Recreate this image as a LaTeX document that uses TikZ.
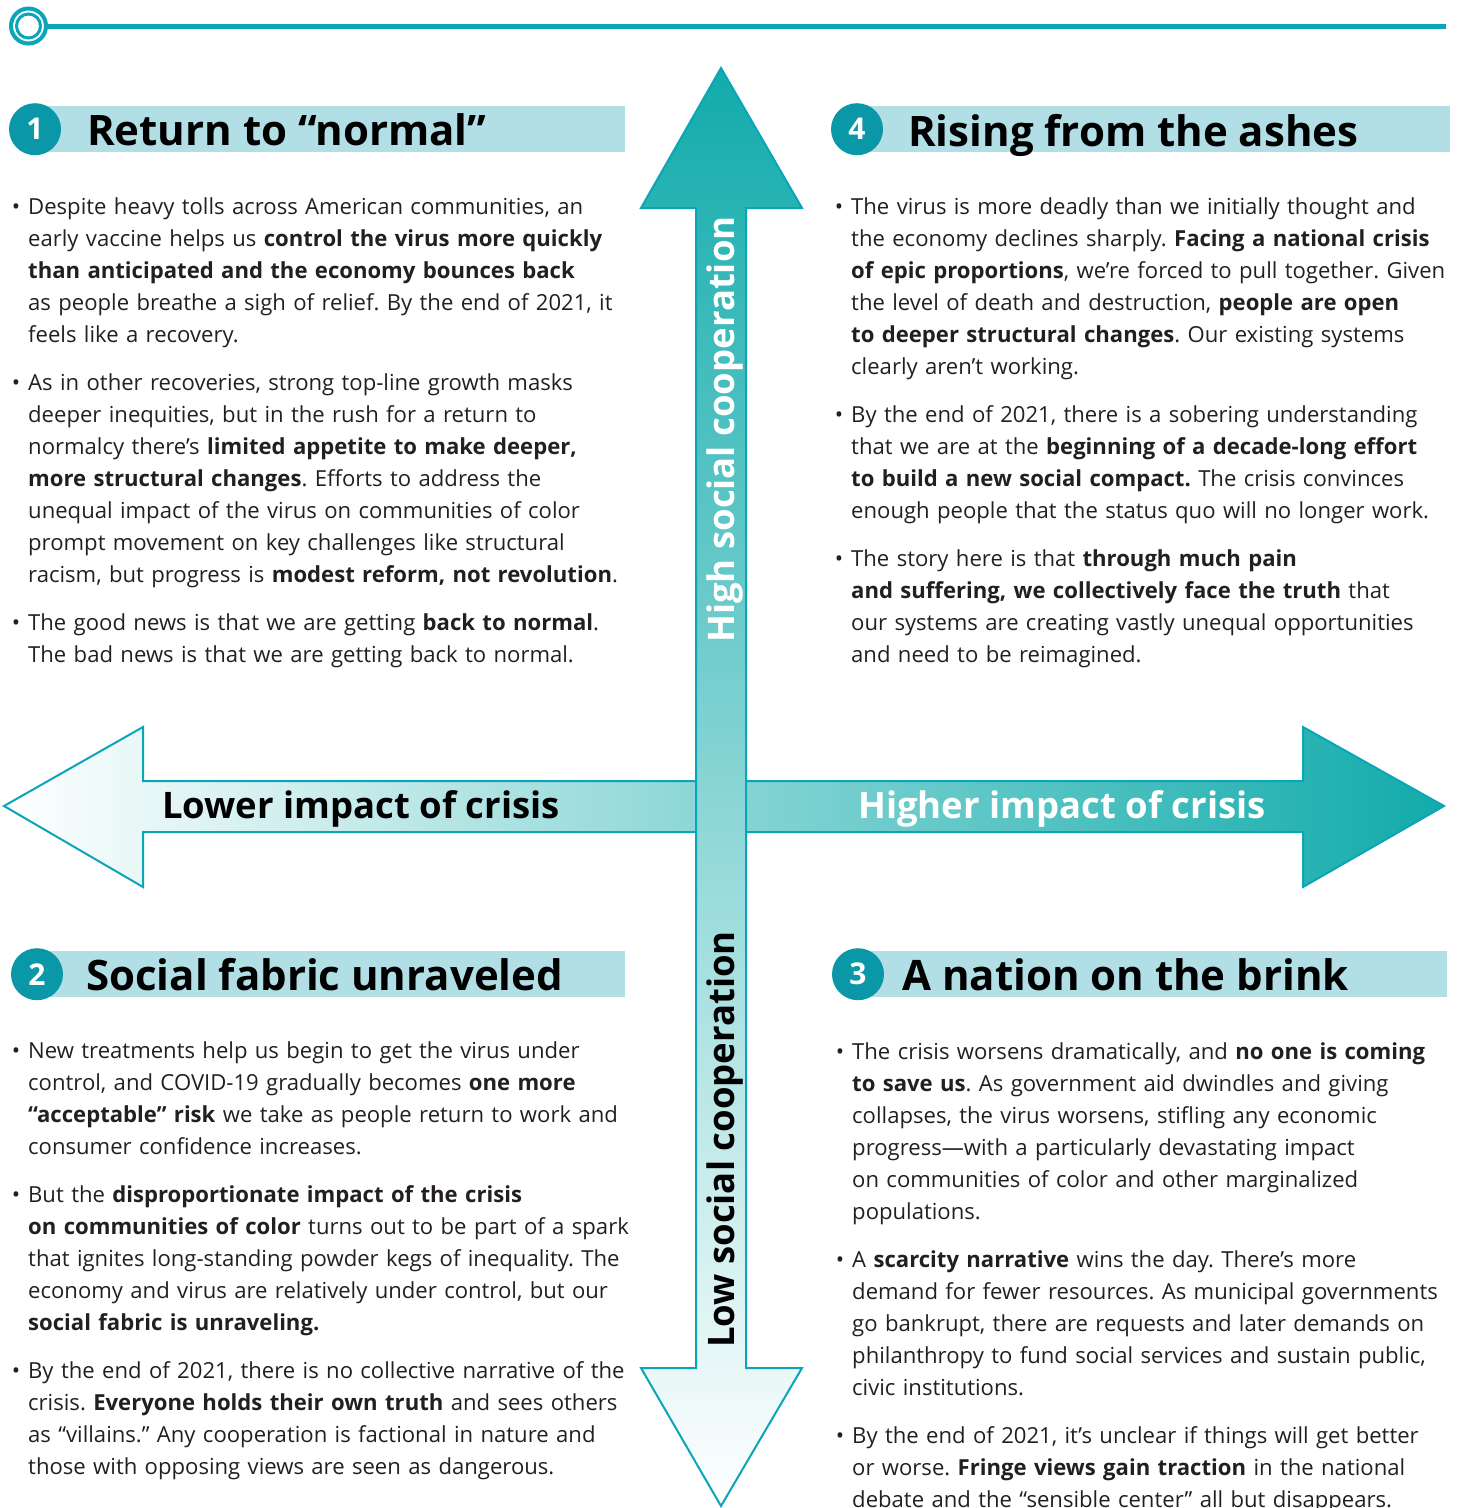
\documentclass[tikz,border=0pt]{standalone}
\usepackage{fontspec}
\setmainfont{Open Sans}
\usepackage{xcolor}
\usetikzlibrary{positioning}
\definecolor{lineteal}{HTML}{0AA5B8}
\definecolor{badgeteal}{HTML}{0A97A7}
\definecolor{barblue}{HTML}{B2DFE5}
\definecolor{arrowteal}{HTML}{12ABAB}
\definecolor{bodygray}{HTML}{231F20}
\newcommand{\bul}{\llap{\textbullet\hspace{8pt}}}
\frenchspacing

\begin{document}
\begin{tikzpicture}[x=1pt, y=-1pt,
  bodytext/.style={anchor=base west, inner sep=0pt, text width=660pt, align=left, text=bodygray, font=\fontsize{22.1}{32}\selectfont},
  headbar/.style={fill=barblue, anchor=north west, minimum height=46pt, inner sep=0pt},
  badge/.style={circle, fill=badgeteal, minimum size=52pt, inner sep=0pt, text=white, font=\fontsize{30}{30}\selectfont\bfseries},
  headline/.style={anchor=base west, inner sep=0pt, text=black, font=\fontsize{42}{42}\selectfont\bfseries},
  axislabel/.style={anchor=base west, inner sep=0pt, font=\fontsize{36.5}{36.5}\selectfont\bfseries},
  arrowline/.style={draw=lineteal, line width=2pt, line join=miter}]
\useasboundingbox (0,0) rectangle (1462,1508);

% Top rule
\node[circle, draw=lineteal, line width=4pt, minimum size=35pt, inner sep=0pt, outer sep=0pt] (ring) at (28.5,26) {};
\node[circle, draw=lineteal, line width=3pt, minimum size=24pt, inner sep=0pt] (ringin) at (ring.center) {};
\coordinate (ruleend) at (1446,26);
\draw[lineteal, line width=5pt] (ring.east) -- (ruleend);

% Heading bars
\node[headbar, minimum width=590pt] (bar1) at (35,106) {};
\node[headbar, minimum width=593pt] (bar4) at (857,106) {};
\node[headbar, minimum width=588pt] (bar2) at (37,951) {};
\node[headbar, minimum width=589pt] (bar3) at (858,951) {};

\node[badge] (b1) at (bar1.west) {1};
\node[badge] (b4) at (bar4.west) {4};
\node[badge] (b2) at (bar2.west) {2};
\node[badge] (b3) at (bar3.west) {3};

\node[headline] (h1) at (87,145) {Return to “normal”};
\node[headline] (h4) at (908,146) {Rising from the ashes};
\node[headline] (h2) at (86,990) {Social fabric unraveled};
\node[headline] (h3) at (902,990) {A nation on the brink};

% Axes
\path[arrowline, left color=white, right color=arrowteal]
  (4,806) -- (143,727) -- (143,781) -- (1303,781) -- (1303,727) -- (1444,806)
  -- (1303,887) -- (1303,832) -- (143,832) -- (143,887) -- cycle;
\path[arrowline, top color=arrowteal, bottom color=white]
  (721,68) -- (802,208) -- (746,208) -- (746,1368) -- (802,1368) -- (721,1506)
  -- (641,1368) -- (696,1368) -- (696,208) -- (641,208) -- cycle;

\node[axislabel, text=black] (lower) at (162,818) {Lower impact of crisis};
\node[axislabel, text=white] (higher) at (858,818) {Higher impact of crisis};
\node[axislabel, text=white, rotate=90] (high) at (734,643) {High social cooperation};
\node[axislabel, text=black, rotate=90] (low) at (734,1348) {Low social cooperation};

% Quadrant 1
\node[bodytext] (q1a) at (28,214) {\bul Despite heavy tolls across American communities, an\\
early vaccine helps us \textbf{control the virus more quickly}\\
\textbf{than anticipated and the economy bounces back}\\
as people breathe a sigh of relief. By the end of 2021, it\\
feels like a recovery.};
\node[bodytext] (q1b) at (28,390) {\bul As in other recoveries, strong top-line growth masks\\
deeper inequities, but in the rush for a return to\\
normalcy there’s \textbf{limited appetite to make deeper,}\\
\textbf{more structural changes}. Efforts to address the\\
unequal impact of the virus on communities of color\\
prompt movement on key challenges like structural\\
racism, but progress is \textbf{modest reform, not revolution}.};
\node[bodytext] (q1c) at (28,630) {\bul The good news is that we are getting \textbf{back to normal}.\\
The bad news is that we are getting back to normal.};

% Quadrant 4
\node[bodytext] (q4a) at (851,214) {\bul The virus is more deadly than we initially thought and\\
the economy declines sharply. \textbf{Facing a national crisis}\\
\textbf{of epic proportions}, we’re forced to pull together. Given\\
the level of death and destruction, \textbf{people are open}\\
\textbf{to deeper structural changes}. Our existing systems\\
clearly aren’t working.};
\node[bodytext] (q4b) at (851,422) {\bul By the end of 2021, there is a sobering understanding\\
that we are at the \textbf{beginning of a decade-long effort}\\
\textbf{to build a new social compact.} The crisis convinces\\
enough people that the status quo will no longer work.};
\node[bodytext] (q4c) at (851,566) {\bul The story here is that \textbf{through much pain}\\
\textbf{and suffering, we collectively face the truth} that\\
our systems are creating vastly unequal opportunities\\
and need to be reimagined.};

% Quadrant 2
\node[bodytext] (q2a) at (28,1058) {\bul New treatments help us begin to get the virus under\\
control, and COVID-19 gradually becomes \textbf{one more}\\
\textbf{“acceptable” risk} we take as people return to work and\\
consumer confidence increases.};
\node[bodytext] (q2b) at (28,1202) {\bul But the \textbf{disproportionate impact of the crisis}\\
\textbf{on communities of color} turns out to be part of a spark\\
that ignites long-standing powder kegs of inequality. The\\
economy and virus are relatively under control, but our\\
\textbf{social fabric is unraveling.}};
\node[bodytext] (q2c) at (28,1378) {\bul By the end of 2021, there is no collective narrative of the\\
crisis. \textbf{Everyone holds their own truth} and sees others\\
as “villains.” Any cooperation is factional in nature and\\
those with opposing views are seen as dangerous.};

% Quadrant 3
\node[bodytext] (q3a) at (852,1059) {\bul The crisis worsens dramatically, and \textbf{no one is coming}\\
\textbf{to save us}. As government aid dwindles and giving\\
collapses, the virus worsens, stifling any economic\\
progress—with a particularly devastating impact\\
on communities of color and other marginalized\\
populations.};
\node[bodytext] (q3b) at (852,1267) {\bul A \textbf{scarcity narrative} wins the day. There’s more\\
demand for fewer resources. As municipal governments\\
go bankrupt, there are requests and later demands on\\
philanthropy to fund social services and sustain public,\\
civic institutions.};
\node[bodytext] (q3c) at (852,1443) {\bul By the end of 2021, it’s unclear if things will get better\\
or worse. \textbf{Fringe views gain traction} in the national\\
debate and the “sensible center” all but disappears.};
\end{tikzpicture}
\end{document}
